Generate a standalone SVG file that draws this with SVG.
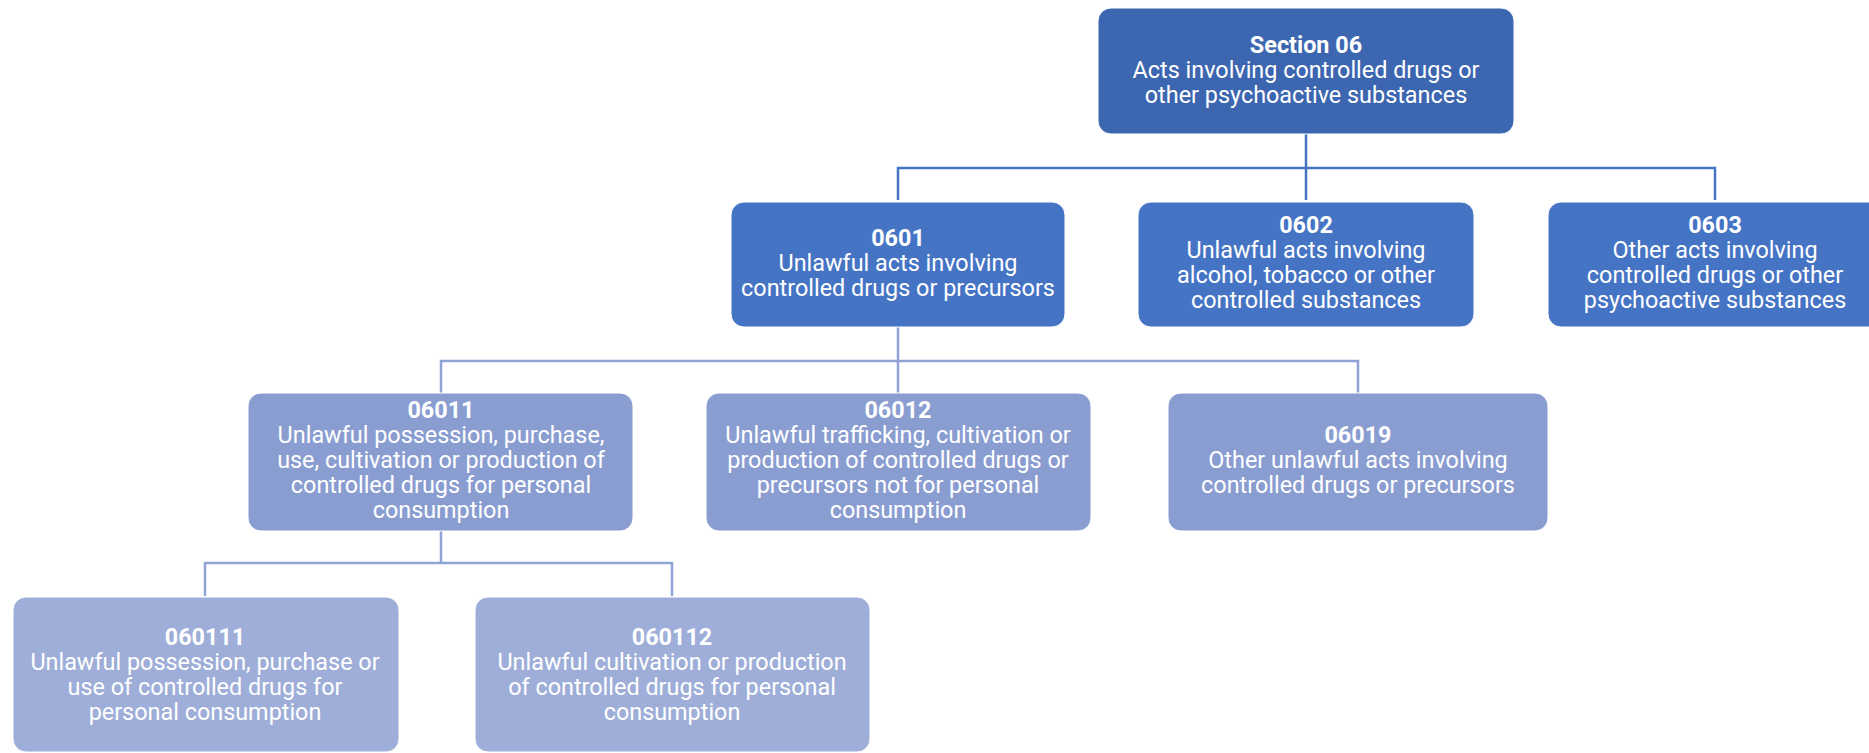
<svg xmlns="http://www.w3.org/2000/svg" width="1869" height="753" viewBox="0 0 1869 753">
<style>
.box{stroke:#ffffff;stroke-width:1}
.l1{fill:#3d66b0}
.l2{fill:#4674c4}
.l3{fill:#8a9dd1}
.l4{fill:#9eaed8}
text{font-family:Roboto,"Liberation Sans",sans-serif;font-size:23.4px;fill:#ffffff;text-anchor:middle}
.b{font-weight:bold}
.c1{stroke:#4674c4;stroke-width:2.5;fill:none}
.c2{stroke:#8fa3d6;stroke-width:2.5;fill:none}
</style>
<rect width="1869" height="753" fill="#ffffff"/>
<g id="connectors">
<path class="c1" d="M1306 134 V200 M898 200 V168 H1715 V200"/>
<path class="c2" d="M898 327 V393 M441 393 V361 H1358 V393"/>
<path class="c2" d="M441 531 V563 M205 596 V563 H672 V596"/>
</g>
<g id="section06">
<rect class="box l1" x="1098" y="8" width="416" height="126" rx="13"/>
<text x="1306" y="53" class="b">Section 06</text>
<text x="1306" y="78">Acts involving controlled drugs or</text>
<text x="1306" y="103">other psychoactive substances</text>
</g>
<g id="n0601">
<rect class="box l2" x="731" y="202" width="334" height="125" rx="13"/>
<text x="898" y="246" class="b">0601</text>
<text x="898" y="271">Unlawful acts involving</text>
<text x="898" y="296">controlled drugs or precursors</text>
</g>
<g id="n0602">
<rect class="box l2" x="1138" y="202" width="336" height="125" rx="13"/>
<text x="1306" y="233" class="b">0602</text>
<text x="1306" y="258">Unlawful acts involving</text>
<text x="1306" y="283">alcohol, tobacco or other</text>
<text x="1306" y="308">controlled substances</text>
</g>
<g id="n0603">
<rect class="box l2" x="1548" y="202" width="334" height="125" rx="13"/>
<text x="1715" y="233" class="b">0603</text>
<text x="1715" y="258">Other acts involving</text>
<text x="1715" y="283">controlled drugs or other</text>
<text x="1715" y="308">psychoactive substances</text>
</g>
<g id="n06011">
<rect class="box l3" x="248" y="393" width="385" height="138" rx="13"/>
<text x="441" y="418" class="b">06011</text>
<text x="441" y="443">Unlawful possession, purchase,</text>
<text x="441" y="468">use, cultivation or production of</text>
<text x="441" y="493">controlled drugs for personal</text>
<text x="441" y="518">consumption</text>
</g>
<g id="n06012">
<rect class="box l3" x="706" y="393" width="385" height="138" rx="13"/>
<text x="898" y="418" class="b">06012</text>
<text x="898" y="443">Unlawful trafficking, cultivation or</text>
<text x="898" y="468">production of controlled drugs or</text>
<text x="898" y="493">precursors not for personal</text>
<text x="898" y="518">consumption</text>
</g>
<g id="n06019">
<rect class="box l3" x="1168" y="393" width="380" height="138" rx="13"/>
<text x="1358" y="443" class="b">06019</text>
<text x="1358" y="468">Other unlawful acts involving</text>
<text x="1358" y="493">controlled drugs or precursors</text>
</g>
<g id="n060111">
<rect class="box l4" x="13" y="597" width="386" height="155" rx="13"/>
<text x="205" y="645" class="b">060111</text>
<text x="205" y="670">Unlawful possession, purchase or</text>
<text x="205" y="695">use of controlled drugs for</text>
<text x="205" y="720">personal consumption</text>
</g>
<g id="n060112">
<rect class="box l4" x="475" y="597" width="395" height="155" rx="13"/>
<text x="672" y="645" class="b">060112</text>
<text x="672" y="670">Unlawful cultivation or production</text>
<text x="672" y="695">of controlled drugs for personal</text>
<text x="672" y="720">consumption</text>
</g>
</svg>
